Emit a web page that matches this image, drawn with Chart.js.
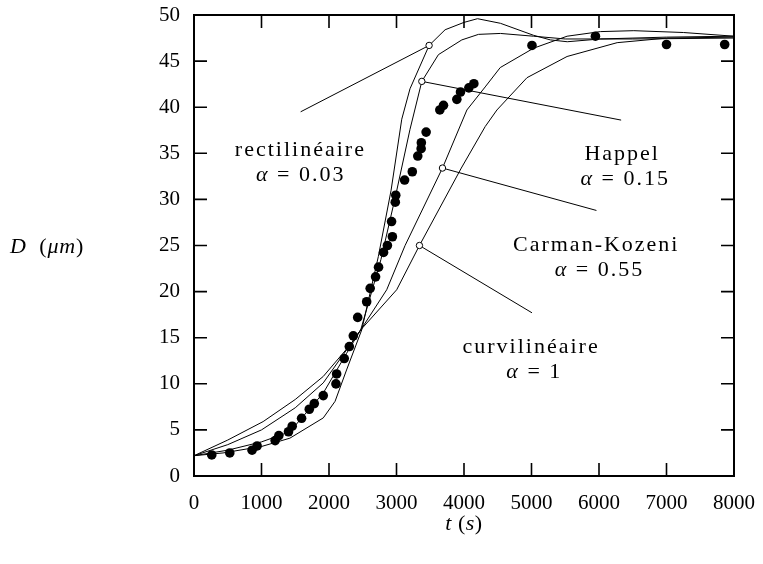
<!DOCTYPE html>
<html>
<head>
<meta charset="utf-8">
<script src="https://cdn.jsdelivr.net/npm/chart.js@4.4.1/dist/chart.umd.min.js"></script>
<style>
  body { margin: 0; background: #fff; }
</style>
</head>
<body>
<canvas id="growthChart" width="763" height="564"></canvas>
<script>
// measured diameters (filled dots)
const measT = [263, 530, 860, 935, 1202, 1257, 1400, 1455, 1594, 1708, 1782, 1915, 2103, 2113, 2226, 2301, 2360, 2425, 2558, 2610, 2690, 2734, 2808, 2865, 2939, 2927, 2982, 2989, 3120, 3234, 3315, 3365, 3368, 3439, 3642, 3696, 3894, 3948, 4072, 4146, 5007, 5947, 7000, 7862];
const measD = [2.28, 2.5, 2.8, 3.26, 3.84, 4.38, 4.8, 5.4, 6.26, 7.24, 7.85, 8.72, 9.99, 11.07, 12.74, 14.04, 15.2, 17.2, 18.9, 20.35, 21.6, 22.65, 24.25, 25.0, 25.95, 27.6, 29.7, 30.45, 32.1, 33.0, 34.7, 35.5, 36.15, 37.3, 39.7, 40.2, 40.85, 41.65, 42.1, 42.55, 46.7, 47.7, 46.8, 46.8];

// model curves
const rectT = [0, 430, 1000, 1420, 1915, 2090, 2260, 2485, 2731, 2920, 3078, 3200, 3483, 3720, 4000, 4200, 4540, 5030, 5280, 5530, 6020, 7000, 8000];
const rectD = [2.2, 2.5, 3.2, 4.1, 6.3, 8.1, 11.5, 15.85, 23.8, 31.0, 38.7, 42.0, 46.7, 48.4, 49.2, 49.6, 49.1, 47.8, 47.3, 47.1, 47.4, 47.6, 47.7];

const happelT = [0, 500, 1000, 1420, 1915, 2260, 2470, 2770, 2990, 3200, 3375, 3621, 3968, 4215, 4540, 5030, 5500, 6500, 8000];
const happelD = [2.2, 2.8, 3.7, 4.8, 9.0, 13.3, 15.85, 23.5, 30.5, 37.6, 42.8, 45.7, 47.3, 47.9, 48.0, 47.7, 47.4, 47.4, 47.5];

const carmanT = [0, 500, 1000, 1500, 1915, 2470, 2855, 3127, 3681, 4043, 4314, 4537, 5031, 5527, 6021, 6516, 7254, 8000];
const carmanD = [2.2, 3.4, 5.0, 7.4, 10.1, 15.85, 20.2, 25.0, 33.4, 39.7, 42.2, 44.3, 46.4, 47.7, 48.2, 48.3, 48.1, 47.7];

const curvT = [0, 500, 1024, 1500, 1915, 2311, 2470, 3003, 3340, 3960, 4314, 4488, 4933, 5527, 6269, 7011, 8000];
const curvD = [2.2, 3.9, 5.9, 8.3, 10.8, 14.2, 15.85, 20.2, 25.0, 33.4, 37.9, 39.7, 43.2, 45.5, 47.0, 47.5, 47.6];

// callouts: marker on curve -> end near the label
const calloutFromT = [3483, 3375, 3681, 3340];
const calloutFromD = [46.7, 42.8, 33.4, 25.0];
const calloutToT = [1580, 6328, 5962, 5007];
const calloutToD = [39.5, 38.6, 28.8, 17.7];

const labelNames = ['rectilinéaire', 'Happel', 'Carman-Kozeni', 'curvilinéaire'];
const labelAlphas = ['0.03', '0.15', '0.55', '1'];

const xTicks = [0, 1000, 2000, 3000, 4000, 5000, 6000, 7000, 8000];
const yTicks = [0, 5, 10, 15, 20, 25, 30, 35, 40, 45, 50];

const SERIF = '"Liberation Serif", "Times New Roman", serif';

function pairs(ts, ds) {
    return ts.map((t, i) => ({ x: t, y: ds[i] }));
}

// label placement, in data units (centre x, baseline y)
const labelPos = [
    { x: 1576, y: 34.67, ax: 1580, ay: 31.95 },
    { x: 6343, y: 34.3, ax: 6388, ay: 31.6 },
    { x: 5959, y: 24.36, ax: 6006, ay: 21.64 },
    { x: 4994, y: 13.32, ax: 5042, ay: 10.6 }
];

// draw a string made of italic / upright pieces, centred on cx
function drawParts(ctx, parts, cx, by, size, spacing) {
    ctx.letterSpacing = spacing + 'px';
    let total = 0;
    const widths = parts.map(p => {
        ctx.font = (p.it ? 'italic ' : '') + size + 'px ' + SERIF;
        const w = ctx.measureText(p.t).width;
        total += w;
        return w;
    });
    let x = cx - total / 2;
    parts.forEach((p, i) => {
        ctx.font = (p.it ? 'italic ' : '') + size + 'px ' + SERIF;
        ctx.fillText(p.t, x, by);
        x += widths[i];
    });
    ctx.letterSpacing = '0px';
}

const framePlugin = {
    id: 'frame',
    afterDatasetsDraw(chart) {
        const { ctx, chartArea: a, scales: { x, y } } = chart;
        ctx.save();
        ctx.strokeStyle = '#000';
        ctx.fillStyle = '#000';

        // inward ticks on all four sides
        ctx.lineWidth = 1.6;
        ctx.beginPath();
        xTicks.forEach(v => {
            const px = x.getPixelForValue(v);
            ctx.moveTo(px, a.bottom); ctx.lineTo(px, a.bottom - 13);
            ctx.moveTo(px, a.top); ctx.lineTo(px, a.top + 13);
        });
        yTicks.forEach(v => {
            const py = y.getPixelForValue(v);
            ctx.moveTo(a.left, py); ctx.lineTo(a.left + 13, py);
            ctx.moveTo(a.right, py); ctx.lineTo(a.right - 13, py);
        });
        ctx.stroke();

        ctx.lineWidth = 2;
        ctx.strokeRect(a.left, a.top, a.right - a.left, a.bottom - a.top);

        // curve labels
        ctx.textBaseline = 'alphabetic';
        ctx.textAlign = 'left';
        labelNames.forEach((name, i) => {
            const p = labelPos[i];
            drawParts(ctx, [{ t: name, it: false }],
                x.getPixelForValue(p.x), y.getPixelForValue(p.y), 22, 2.0);
            drawParts(ctx, [{ t: 'α', it: true }, { t: ' = ' + labelAlphas[i], it: false }],
                x.getPixelForValue(p.ax), y.getPixelForValue(p.ay), 22, 2.0);
        });

        // axis titles
        drawParts(ctx, [{ t: 'D', it: true }, { t: '  (', it: false }, { t: 'μm', it: true }, { t: ')', it: false }],
            47, 253, 22, 0.8);
        drawParts(ctx, [{ t: 't', it: true }, { t: ' (', it: false }, { t: 's', it: true }, { t: ')', it: false }],
            (a.left + a.right) / 2, 530, 22, 0.5);

        ctx.restore();
    }
};

const calloutSets = calloutFromT.map((t, i) => ({
    data: [{ x: t, y: calloutFromD[i] }, { x: calloutToT[i], y: calloutToD[i] }],
    showLine: true,
    borderColor: '#000',
    borderWidth: 1,
    pointRadius: [3.2, 0],
    pointBorderWidth: 1,
    pointBorderColor: '#000',
    pointBackgroundColor: '#fff'
}));

const curveSets = [[rectT, rectD], [happelT, happelD], [carmanT, carmanD], [curvT, curvD]].map(c => ({
    data: pairs(c[0], c[1]),
    showLine: true,
    borderColor: '#000',
    borderWidth: 1,
    pointRadius: 0,
    tension: 0
}));

const ctx = document.getElementById('growthChart').getContext('2d');

new Chart(ctx, {
    type: 'scatter',
    data: {
        datasets: [
            ...calloutSets,
            {
                data: pairs(measT, measD),
                pointRadius: 4.8,
                pointBackgroundColor: '#000',
                pointBorderWidth: 0,
                showLine: false
            },
            ...curveSets
        ]
    },
    options: {
        responsive: false,
        animation: false,
        layout: { padding: { left: 0, right: 29, top: 15, bottom: 0 } },
        plugins: {
            legend: { display: false },
            tooltip: { enabled: false }
        },
        scales: {
            x: {
                type: 'linear',
                min: 0,
                max: 8000,
                afterBuildTicks: s => { s.ticks = xTicks.map(v => ({ value: v })); },
                afterFit: s => {
                    s.height = 88;
                    s.paddingLeft = 0;
                    s.paddingRight = 0;
                },
                grid: { display: false, drawTicks: false },
                border: { display: false },
                ticks: {
                    color: '#000',
                    padding: 15,
                    maxRotation: 0,
                    autoSkip: false,
                    callback: v => String(v),
                    font: { family: SERIF, size: 21 }
                }
            },
            y: {
                type: 'linear',
                min: 0,
                max: 50,
                afterBuildTicks: s => { s.ticks = yTicks.map(v => ({ value: v })); },
                afterFit: s => {
                    s.width = 194;
                    s.paddingTop = 0;
                    s.paddingBottom = 0;
                },
                grid: { display: false, drawTicks: false },
                border: { display: false },
                ticks: {
                    color: '#000',
                    padding: 14,
                    autoSkip: false,
                    callback: v => String(v),
                    font: { family: SERIF, size: 21 }
                }
            }
        }
    },
    plugins: [framePlugin]
});
</script>
</body>
</html>
